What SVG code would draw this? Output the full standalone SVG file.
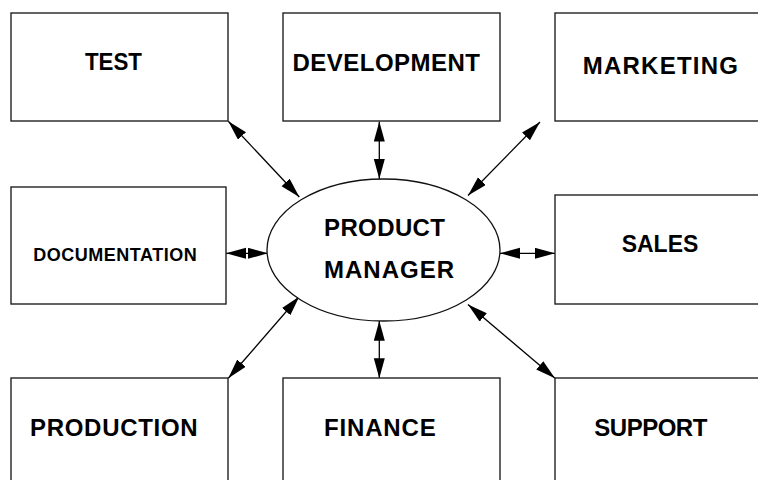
<svg xmlns="http://www.w3.org/2000/svg" width="758" height="480" viewBox="0 0 758 480">
  <style>
    .box { fill: #ffffff; stroke: #222222; stroke-width: 1.4; }
    .hub { fill: #ffffff; stroke: #111111; stroke-width: 1.3; }
    .lbl { font-family: "Liberation Sans", Arial, Helvetica, sans-serif; font-weight: bold; font-size: 24px; fill: #000000; }
    .small { font-size: 18px; }
    .link { stroke: #000000; stroke-width: 1.3; fill: none; marker-start: url(#head); marker-end: url(#head); }
  </style>
  <defs>
    <marker id="head" markerUnits="userSpaceOnUse" markerWidth="21" markerHeight="12" refX="20" refY="5.5" orient="auto-start-reverse">
      <path d="M0,0 L20,5.5 L0,11 Z" fill="#000000"/>
    </marker>
  </defs>
  <rect width="758" height="480" fill="#ffffff"/>

  <!-- connectors from the hub to each department -->
  <g id="connectors">
    <line class="link" x1="228.3" y1="121.3" x2="299.3" y2="197"/>
    <line class="link" x1="379.3" y1="121.5" x2="379.3" y2="179"/>
    <line class="link" x1="540" y1="122" x2="468" y2="195.5"/>
    <line class="link" x1="226" y1="253.3" x2="268" y2="253.3"/>
    <line class="link" x1="500" y1="253.3" x2="555" y2="253.3"/>
    <line class="link" x1="228.3" y1="378.3" x2="299.3" y2="296.5"/>
    <line class="link" x1="379.3" y1="320.7" x2="379.3" y2="378.3"/>
    <line class="link" x1="555" y1="378.3" x2="468" y2="304.5"/>
  </g>

  <g id="test">
    <rect class="box" x="11" y="13" width="217" height="108"/>
    <text class="lbl" x="85" y="70" textLength="57" lengthAdjust="spacingAndGlyphs">TEST</text>
  </g>
  <g id="development">
    <rect class="box" x="283" y="13" width="217" height="108"/>
    <text class="lbl" x="292.5" y="70.5" textLength="187.5" lengthAdjust="spacing">DEVELOPMENT</text>
  </g>
  <g id="marketing">
    <rect class="box" x="555" y="13" width="217" height="108"/>
    <text class="lbl" x="582.7" y="74" textLength="155.3" lengthAdjust="spacing">MARKETING</text>
  </g>
  <g id="documentation">
    <rect class="box" x="11" y="187" width="215" height="117"/>
    <text class="lbl small" x="33.3" y="260.5" textLength="163.4" lengthAdjust="spacing">DOCUMENTATION</text>
  </g>
  <g id="product-manager">
    <ellipse class="hub" cx="383.5" cy="250" rx="116.5" ry="71"/>
    <text class="lbl" x="324" y="235.7" textLength="121" lengthAdjust="spacing">PRODUCT</text>
    <text class="lbl" x="324" y="277.7" textLength="130" lengthAdjust="spacing">MANAGER</text>
  </g>
  <g id="sales">
    <rect class="box" x="555" y="195" width="217" height="109"/>
    <text class="lbl" x="621.7" y="252.3" textLength="76.6" lengthAdjust="spacingAndGlyphs">SALES</text>
  </g>
  <g id="production">
    <rect class="box" x="11" y="378" width="217" height="108"/>
    <text class="lbl" x="30" y="435.7" textLength="167.7" lengthAdjust="spacing">PRODUCTION</text>
  </g>
  <g id="finance">
    <rect class="box" x="283" y="378" width="217" height="108"/>
    <text class="lbl" x="324" y="435.7" textLength="111.7" lengthAdjust="spacing">FINANCE</text>
  </g>
  <g id="support">
    <rect class="box" x="555" y="378" width="217" height="108"/>
    <text class="lbl" x="594.3" y="435.7" textLength="113" lengthAdjust="spacing">SUPPORT</text>
  </g>
</svg>
